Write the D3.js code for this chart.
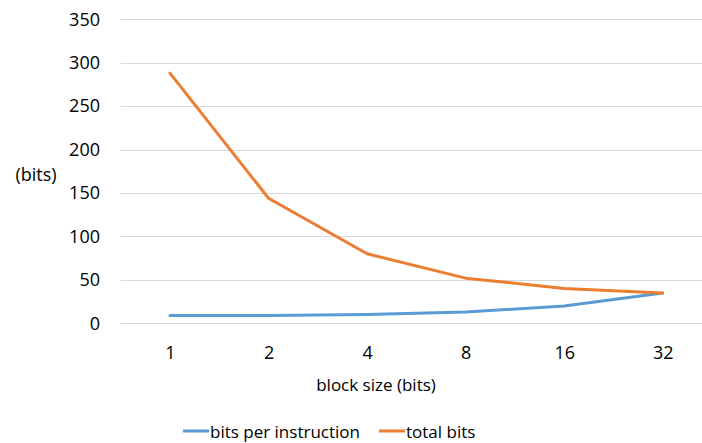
<!DOCTYPE html>
<html>
<head>
<meta charset="utf-8">
<script src="https://cdn.jsdelivr.net/npm/d3@7"></script>
<style>
  html, body { margin: 0; padding: 0; background: #fff; }
  svg { display: block; font-family: "Open Sans", "Noto Sans", sans-serif; }
</style>
</head>
<body>
<svg id="chart" width="702" height="443"></svg>
<script>
// Block sizes (x categories) and the two series
const blockSizes = ["1", "2", "4", "8", "16", "32"];
const bitsPerInstruction = [9, 9, 10, 13, 20, 35];
const totalBits = [288, 144, 80, 52, 40, 35];
const yTicks = [0, 50, 100, 150, 200, 250, 300, 350];

const seriesNames = ["bits per instruction", "total bits"];
const seriesColors = ["#5B9BD5", "#ED7D31"];
const seriesValues = [bitsPerInstruction, totalBits];

const svg = d3.select("#chart");
const margin = { left: 120.7, right: -10, top: 19.3, bottom: 119.7 };
const width = 702, height = 443;

const x = d3.scalePoint()
  .domain(blockSizes)
  .range([margin.left, width - margin.right])
  .padding(0.5);

const y = d3.scaleLinear()
  .domain([0, 350])
  .range([height - margin.bottom, margin.top]);

// Horizontal gridlines
svg.append("g")
  .selectAll("line")
  .data(yTicks)
  .join("line")
  .attr("x1", margin.left)
  .attr("x2", width - margin.right)
  .attr("y1", d => Math.round(y(d)) + 0.5)
  .attr("y2", d => Math.round(y(d)) + 0.5)
  .attr("stroke", "#D9D9D9")
  .attr("stroke-width", 1);

// Y tick labels
const yAxis = d3.axisLeft(y).tickValues(yTicks).tickSize(0).tickPadding(0);
const gy = svg.append("g")
  .attr("transform", `translate(100,0)`)
  .call(yAxis);
gy.select(".domain").remove();
gy.selectAll("text")
  .attr("font-family", "'Open Sans', 'Noto Sans', sans-serif")
  .attr("font-size", 18)
  .attr("fill", "#000");

// X tick labels
const xAxis = d3.axisBottom(x).tickSize(0).tickPadding(0);
const gx = svg.append("g")
  .attr("transform", `translate(0,${height - margin.bottom})`)
  .call(xAxis);
gx.select(".domain").remove();
gx.selectAll("text")
  .attr("font-family", "'Open Sans', 'Noto Sans', sans-serif")
  .attr("font-size", 18)
  .attr("fill", "#000")
  .attr("dy", null)
  .attr("y", 36);

// Axis titles
svg.append("text")
  .attr("x", 36)
  .attr("y", 181)
  .attr("text-anchor", "middle")
  .attr("font-size", 18)
  .text("(bits)");

svg.append("text")
  .attr("x", 376)
  .attr("y", 391)
  .attr("text-anchor", "middle")
  .attr("font-size", 17)
  .text("block size (bits)");

// Series lines
const line = d3.line()
  .x((d, i) => x(blockSizes[i]))
  .y(d => y(d));

svg.append("g")
  .selectAll("path")
  .data(seriesValues)
  .join("path")
  .attr("d", d => line(d))
  .attr("fill", "none")
  .attr("stroke", (d, i) => seriesColors[i])
  .attr("stroke-width", 3)
  .attr("stroke-linejoin", "round")
  .attr("stroke-linecap", "round");

// Legend
const legendX = [183, 379];
const legend = svg.append("g")
  .selectAll("g")
  .data(seriesNames)
  .join("g")
  .attr("transform", (d, i) => `translate(${legendX[i]},431)`);
legend.append("line")
  .attr("x1", 0).attr("x2", 26)
  .attr("y1", 0).attr("y2", 0)
  .attr("stroke", (d, i) => seriesColors[i])
  .attr("stroke-width", 3);
legend.append("text")
  .attr("x", 27)
  .attr("y", 7)
  .attr("font-size", 17)
  .text(d => d);
</script>
</body>
</html>
